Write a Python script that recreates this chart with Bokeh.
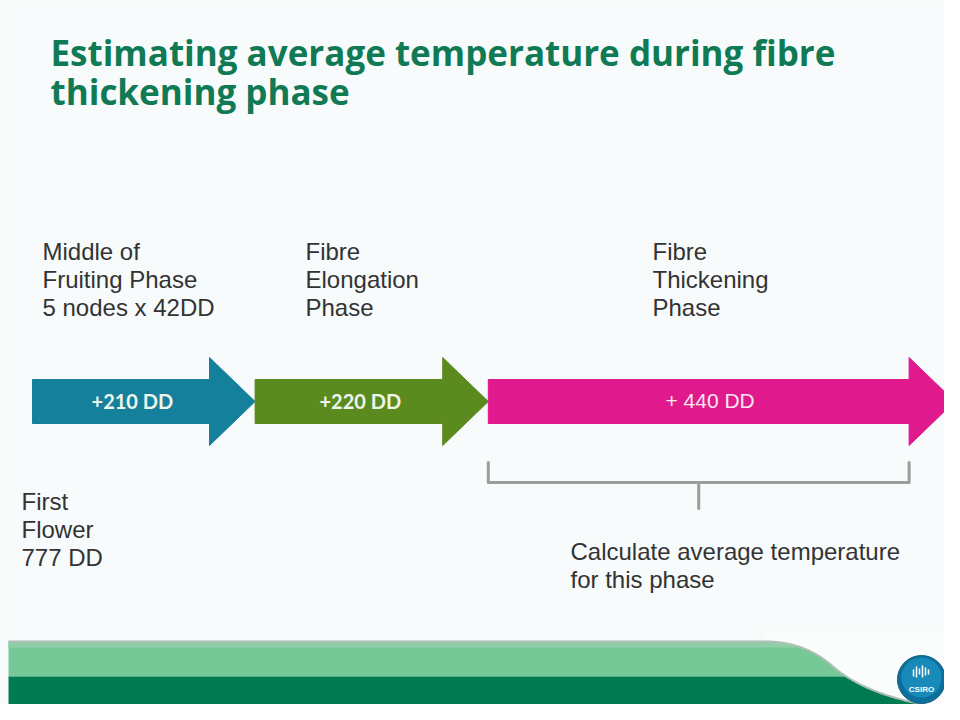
import numpy as np
from bokeh.plotting import figure
from bokeh.models import Range1d, ColumnDataSource
from bokeh.embed import file_html
from bokeh.resources import INLINE
from bokeh.core.properties import value

# ---------------- data ----------------
first_flower_dd = 777
phase_dd = [210, 220, 440]
phase_labels = ["+210 DD", "+220 DD", "+ 440 DD"]
phase_colors = ["#15809c", "#5b8b1f", "#e0198d"]
phase_titles = [
    ["Middle of", "Fruiting Phase", "5 nodes x 42DD"],
    ["Fibre", "Elongation", "Phase"],
    ["Fibre", "Thickening", "Phase"],
]
first_flower_text = ["First", "Flower", "777 DD"]
note_text = ["Calculate average temperature", "for this phase"]
title_lines = ["Estimating average temperature during fibre", "thickening phase"]

# ---------------- layout / style ----------------
W, H = 944, 704
BG = "#f7fbfc"
K = 1.06              # px per DD
X0 = 32               # px where first flower sits
head_dd = 43          # arrow head length in DD units
yc = 401              # arrow centre (px)
body_half, head_half = 22, 44

p = figure(width=W, height=H, output_backend="svg", toolbar_location=None,
           x_range=Range1d(first_flower_dd - X0 / K, first_flower_dd + (W - X0) / K),
           y_range=Range1d(H, 0),
           min_border=0, background_fill_color=BG, border_fill_color=BG)
p.extra_x_ranges = {"px": Range1d(0, W)}
p.axis.visible = False
p.grid.visible = False
p.outline_line_color = None

# ---------------- arrows (DD axis) ----------------
ends = first_flower_dd + np.cumsum(phase_dd)
starts = ends - np.array(phase_dd)
xs, ys, lx = [], [], []
for s, e in zip(starts, ends):
    hs = e - head_dd
    xs.append([s, hs, hs, e, hs, hs, s])
    ys.append([yc - body_half, yc - body_half, yc - head_half, yc,
               yc + head_half, yc + body_half, yc + body_half])
    lx.append((s + e - head_dd / 2) / 2)
src = ColumnDataSource(dict(xs=xs, ys=ys, color=phase_colors))
p.patches("xs", "ys", source=src, fill_color="color", line_color="color", line_width=1)

p.text(x=lx[:2], y=[yc - 1, yc - 1], text=phase_labels[:2], text_color="#eef4ea",
       text_font=value("Lato"), text_font_style="bold", text_font_size="20px",
       text_align="center", text_baseline="middle")
p.text(x=lx[2:], y=[yc - 1], text=phase_labels[2:], text_color="#f6e6f0",
       text_font=value("Liberation Sans"), text_font_size="21px",
       text_align="center", text_baseline="middle")

# bracket under the thickening phase
bs, be = starts[2], ends[2] - head_dd
bm = (bs + be) / 2
p.multi_line(xs=[[bs, bs, be, be], [bm, bm]], ys=[[462, 482, 482, 462], [482, 508]],
             line_color="#9c9c9c", line_width=3, line_join="round", line_cap="round")

# ---------------- texts ----------------
p.text(x=[50, 50], y=[52, 91], text=title_lines, x_range_name="px",
       text_color="#0f7a54", text_font=value("Open Sans"), text_font_style="bold",
       text_font_size="35px", text_baseline="middle")

group_x = [42, 305, 652]
mid_y = [251, 279, 307]
for gx, lines in zip(group_x, phase_titles):
    p.text(x=[gx] * 3, y=mid_y, text=lines, x_range_name="px",
           text_color="#333333", text_font=value("Liberation Sans"),
           text_font_size="24px", text_baseline="middle")

p.text(x=[21] * 3, y=[501, 529, 557], text=first_flower_text, x_range_name="px",
       text_color="#333333", text_font=value("Liberation Sans"),
       text_font_size="24px", text_baseline="middle")
p.text(x=[570] * 2, y=[551, 579], text=note_text, x_range_name="px",
       text_color="#333333", text_font=value("Liberation Sans"),
       text_font_size="24px", text_baseline="middle")

# ---------------- footer band ----------------
def bez(p0, p1, p2, p3, n=30):
    t = np.linspace(0, 1, n)[:, None]
    pts = ((1 - t) ** 3) * np.array(p0) + 3 * ((1 - t) ** 2) * t * np.array(p1) \
        + 3 * (1 - t) * t ** 2 * np.array(p2) + t ** 3 * np.array(p3)
    return pts[:, 0], pts[:, 1]

c1x, c1y = bez((765, 641), (800, 641), (820, 655), (835, 668))
c2x, c2y = bez((835, 668), (850, 681), (890, 704), (960, 708))
cx = np.concatenate([c1x, c2x[1:]])
cy = np.concatenate([c1y, c2y[1:]])

p.quad(left=8, right=W, top=641, bottom=676, x_range_name="px",
       fill_color="#76c996", line_color=None)
p.quad(left=8, right=W, top=641, bottom=647, x_range_name="px",
       fill_color="#8fcfa7", line_color=None)
p.quad(left=8, right=W, top=676, bottom=H, x_range_name="px",
       fill_color="#007a50", line_color=None)
# white swoosh on the right
wx = np.concatenate([[765], cx, [960, 960]])
wy = np.concatenate([[630], cy, [630, 630]])
p.patch(wx, wy, x_range_name="px", fill_color="#fbfdfd", line_color=None)
# grey top edge following the swoosh
p.line(np.concatenate([[8], cx]), np.concatenate([[641], cy]), x_range_name="px",
       line_color="#aebfb5", line_width=2)

# CSIRO logo
p.scatter(x=[921], y=[679], x_range_name="px", marker="circle", size=48,
          fill_color="#0f6f9c", line_color="#0b5a80", line_width=1)
p.scatter(x=[921], y=[677], x_range_name="px", marker="circle", size=40,
          fill_color="#1a8dbd", line_color=None, alpha=0.9)
p.multi_line(xs=[[913, 913], [916, 916], [919, 919], [922, 922], [925, 925], [928, 928]],
             ys=[[669, 676], [666, 677], [668, 674], [665, 677], [667, 675], [669, 674]],
             x_range_name="px", line_color="white", line_width=1.5)
p.text(x=[921], y=[689], text=["CSIRO"], x_range_name="px", text_color="white",
       text_font=value("Liberation Sans"), text_font_style="bold", text_font_size="8px",
       text_align="center", text_baseline="middle")

open("out.html", "w").write(file_html(p, INLINE))
